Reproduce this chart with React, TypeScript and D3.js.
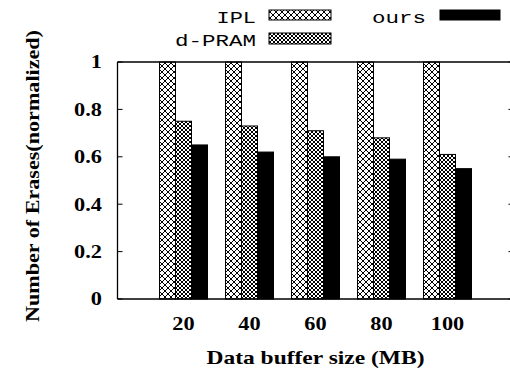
import React from "react";
import * as d3 from "d3";

// Normalized erase counts per data buffer size
const bufferSizes = ["20", "40", "60", "80", "100"];
const iplValues = [1, 1, 1, 1, 1];
const dpramValues = [0.75, 0.73, 0.71, 0.68, 0.61];
const oursValues = [0.65, 0.62, 0.6, 0.59, 0.55];
const yTicks = [0, 0.2, 0.4, 0.6, 0.8, 1];
const seriesNames = ["IPL", "d-PRAM", "ours"];

const W = 510;
const H = 375;
const plotLeft = 117.5;
const plotRight = 513.5;
const plotTop = 62;
const plotBottom = 299;
const SX = 1.24; // horizontal stretch applied to serif labels

const serif = "'Liberation Serif', 'Times New Roman', serif";
const mono = "'Liberation Mono', 'Courier New', monospace";

function SerifLabel(props: {
  x: number;
  y: number;
  anchor: "start" | "middle" | "end";
  children: React.ReactNode;
  dy?: string;
}) {
  return (
    <g transform={`translate(${props.x},${props.y}) scale(${SX},1)`}>
      <text
        textAnchor={props.anchor}
        dy={props.dy}
        fontFamily={serif}
        fontWeight="bold"
        fontSize={18}
      >
        {props.children}
      </text>
    </g>
  );
}

export default function App() {
  const x = d3
    .scaleLinear()
    .domain([0, bufferSizes.length + 1])
    .range([plotLeft, plotRight]);
  const y = d3.scaleLinear().domain([0, 1]).range([plotBottom, plotTop]);
  const unit = x(1) - x(0);
  const bw = unit * 0.2424;
  const xr = x(bufferSizes.length + 1);

  const series = [
    { name: seriesNames[0], values: iplValues, fill: "url(#hatchIPL)" },
    { name: seriesNames[1], values: dpramValues, fill: "url(#hatchDP)" },
    { name: seriesNames[2], values: oursValues, fill: "#000" },
  ];

  return (
    <div
      style={{
        position: "fixed",
        left: 0,
        top: 0,
        width: W,
        height: H,
        overflow: "hidden",
        background: "#fff",
      }}
    >
      <svg width={W} height={H} viewBox={`0 0 ${W} ${H}`} style={{ display: "block" }}>
        <defs>
          <pattern id="hatchIPL" patternUnits="userSpaceOnUse" width={6} height={6}>
            <rect width={6} height={6} fill="#fff" />
            <path
              d="M0,0 L6,6 M6,0 L0,6"
              stroke="#000"
              strokeWidth={1}
              shapeRendering="crispEdges"
            />
          </pattern>
          <pattern id="hatchDP" patternUnits="userSpaceOnUse" width={4} height={4}>
            <rect width={4} height={4} fill="#fff" />
            <path
              d="M0,0 L4,4 M4,0 L0,4"
              stroke="#000"
              strokeWidth={1}
              shapeRendering="crispEdges"
            />
            <rect x={1.5} y={1.5} width={1} height={1} fill="#000" shapeRendering="crispEdges" />
          </pattern>
        </defs>

        {/* bars */}
        {bufferSizes.map((_, i) => {
          const cx = x(i + 1);
          return series.map((s, j) => (
            <rect
              key={`${i}-${j}`}
              x={cx + (j - 1.5) * bw}
              y={y(s.values[i])}
              width={bw}
              height={y(0) - y(s.values[i])}
              fill={s.fill}
              stroke="#000"
              strokeWidth={1}
            />
          ));
        })}

        {/* frame: the right border lies just past the canvas edge */}
        <g stroke="#000" strokeWidth={1.3}>
          <line x1={plotLeft} x2={xr} y1={y(1)} y2={y(1)} />
          <line x1={plotLeft} x2={xr} y1={y(0)} y2={y(0)} />
          <line x1={plotLeft} x2={plotLeft} y1={y(0)} y2={y(1)} />
          <line x1={xr} x2={xr} y1={y(0)} y2={y(1)} />
        </g>

        {/* y ticks and labels */}
        {yTicks.map((t) => (
          <g key={t}>
            <line x1={plotLeft} x2={plotLeft + 5} y1={y(t)} y2={y(t)} stroke="#000" />
            <line x1={xr - 5} x2={xr} y1={y(t)} y2={y(t)} stroke="#000" />
            <SerifLabel x={102} y={y(t)} anchor="end" dy="0.35em">
              {d3.format("~g")(t)}
            </SerifLabel>
          </g>
        ))}

        {/* x labels */}
        {bufferSizes.map((c, i) => (
          <SerifLabel key={c} x={x(i + 1)} y={330} anchor="middle">
            {c}
          </SerifLabel>
        ))}

        <text
          x={(plotLeft + plotRight) / 2 - 109}
          y={364}
          fontFamily={serif}
          fontWeight="bold"
          fontSize={19}
          textLength={218}
          lengthAdjust="spacingAndGlyphs"
        >
          Data buffer size (MB)
        </text>

        <text
          transform={`translate(39,322) rotate(-90)`}
          fontFamily={serif}
          fontWeight="bold"
          fontSize={19}
          textLength={292}
          lengthAdjust="spacingAndGlyphs"
        >
          Number of Erases(normalized)
        </text>

        {/* legend */}
        <g fontFamily={mono} fontSize={16.5}>
          <text x={216.5} y={22.5} textLength={39.5} lengthAdjust="spacingAndGlyphs">
            {seriesNames[0]}
          </text>
          <rect x={269} y={10} width={62} height={10} fill="url(#hatchIPL)" stroke="#000" />
          <text x={175} y={45.5} textLength={81} lengthAdjust="spacingAndGlyphs">
            {seriesNames[1]}
          </text>
          <rect x={269} y={33} width={62} height={11} fill="url(#hatchDP)" stroke="#000" />
          <text x={372} y={22.5} textLength={54} lengthAdjust="spacingAndGlyphs">
            {seriesNames[2]}
          </text>
          <rect x={440} y={10} width={60} height={10} fill="#000" stroke="#000" />
        </g>
      </svg>
    </div>
  );
}
